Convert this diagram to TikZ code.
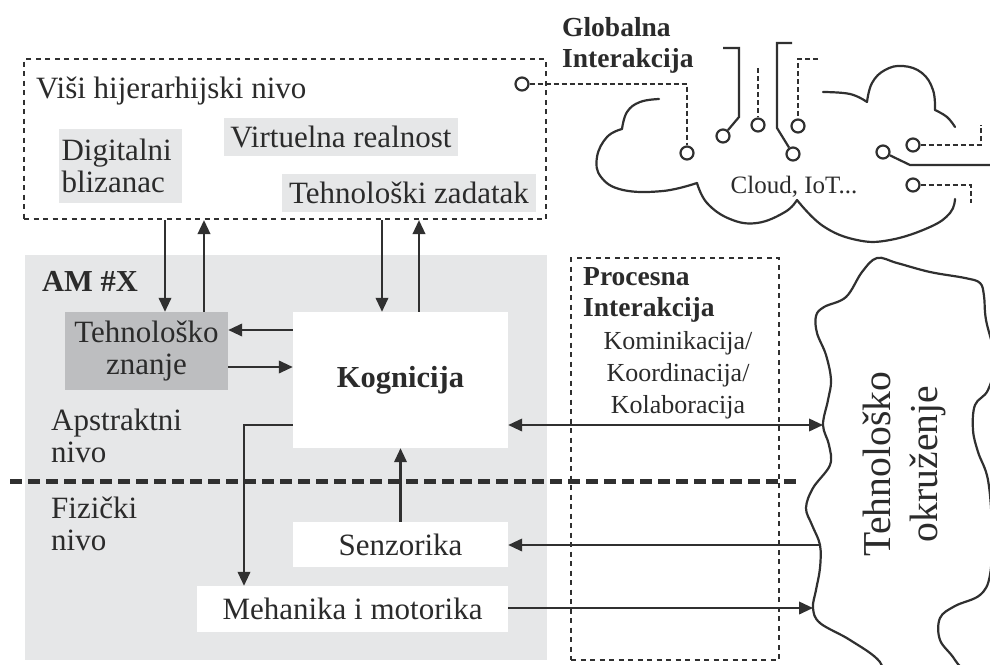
\documentclass[tikz,border=0pt]{standalone}
\usepackage{fontspec}
\setmainfont{Liberation Serif}
\usetikzlibrary{arrows.meta}
\definecolor{ink}{HTML}{303030}
\definecolor{txt}{HTML}{2B2B2B}
\definecolor{lgray}{HTML}{E6E7E8}
\definecolor{mgray}{HTML}{BDBEC0}
\begin{document}
\begin{tikzpicture}[x=1pt,y=-1pt,
  every node/.style={text=txt, inner sep=0pt},
  ln/.style={draw=ink, line width=2.2pt},
  arr/.style={ln, -{Triangle[length=14pt,width=12.5pt]}},
  biarr/.style={ln, {Triangle[length=14pt,width=12.5pt]}-{Triangle[length=14pt,width=12.5pt]}},
  dotbox/.style={draw=ink, line width=2.2pt, dash pattern=on 5pt off 4.5pt},
  dashcon/.style={draw=ink, line width=2.2pt, dash pattern=on 5pt off 3pt},
  sepline/.style={draw=ink, line width=5pt, dash pattern=on 12pt off 6pt},
  pinnode/.style={draw=ink, line width=2.2pt, fill=white, circle, minimum size=13pt, inner sep=0pt},
  fmain/.style={font=\fontsize{31}{32}\selectfont},
  fmainb/.style={font=\fontsize{30.5}{32}\selectfont\bfseries},
  fbold/.style={font=\fontsize{27.5}{31}\selectfont\bfseries},
  fsmall/.style={font=\fontsize{26}{32}\selectfont},
  lightbox/.style={fill=lgray, fmain},
  whitebox/.style={fill=white, fmain},
]
\fill[white] (0,0) rectangle (990,664);
\useasboundingbox (0,0) rectangle (990,664);

% ---------------- upper level box
\node[dotbox, minimum width=522pt, minimum height=160pt] (upper) at (285,139) {};
\node[fmain, anchor=base west] (vishi) at (36,98) {Viši hijerarhijski nivo};
\node[lightbox, minimum width=123pt, minimum height=74pt, text width=118pt, align=left, inner xsep=2.5pt] (dig) at (120.5,166) {Digitalni\\blizanac};
\node[lightbox, minimum width=234pt, minimum height=38pt] (virt) at (341,137) {Virtuelna realnost};
\node[lightbox, minimum width=254pt, minimum height=38pt] (tzad) at (409,193) {Tehnološki zadatak};

% ---------------- AM region
\node[fill=lgray, minimum width=522pt, minimum height=405pt] (am) at (286,457.5) {};
\node[fmainb, anchor=base west] (amx) at (42,291) {AM \#X};
\node[fill=mgray, fmain, minimum width=163pt, minimum height=78pt, align=center] (tzn) at (146.5,351) {Tehnološko\\znanje};
\node[whitebox, fmainb, minimum width=215pt, minimum height=136pt] (kog) at (400.5,380) {Kognicija};
\node[fmain, anchor=west, align=left] (apst) at (51,436) {Apstraktni\\nivo};
\node[fmain, anchor=west, align=left] (fiz) at (51,524) {Fizički\\nivo};
\node[whitebox, minimum width=215pt, minimum height=45pt] (sen) at (400.5,544.5) {Senzorika};
\node[whitebox, minimum width=311pt, minimum height=46pt] (meh) at (352.5,609) {Mehanika i motorika};

% ---------------- process interaction box
\node[dotbox, minimum width=208pt, minimum height=402pt] (proc) at (675,459) {};
\node[fbold, anchor=west, align=left] (proct) at (583,295) {Procesna\\Interakcija};
\node[fsmall, align=center] (kom) at (678,375) {Kominikacija/\\Koordinacija/\\Kolaboracija};

% separator
\coordinate (s0) at (10,481);
\coordinate (s1) at (798,481);
\draw[sepline] (s0) -- (s1);

% ---------------- technological environment
\begin{scope}
\clip (0,0) rectangle (990,664);
\draw[ln, fill=white] plot[smooth cycle, tension=0.6] coordinates {
 (877,258) (897,263) (930,272) (965,278) (980,283) (984,296) (986,320) (995,360)
 (988,390) (975,405) (973,430) (978,452) (988,480) (992,530) (990,575)
 (980,595) (955,606) (940,618) (940,640) (955,660) (970,690)
 (890,690) (880,662) (850,640) (820,623) (813,608) (816,590) (820,568) (820,545)
 (812,525) (806,508) (813,488) (830,465) (829,445) (823,425) (828,400)
 (831,380) (826,355) (817,333) (816,316) (824,307) (846,297) (862,272)};
\node[font=\fontsize{39.6}{47}\selectfont, rotate=90, align=center] (env) at (904.5,464) {Tehnološko\\okruženje};

% ---------------- cloud
\draw[ln, line cap=round] plot[smooth, tension=0.7] coordinates {(659,99) (640,102) (627,112) (622,129)};
\draw[ln, line cap=round] plot[smooth, tension=0.7] coordinates {(622,129) (607,137) (597,157) (601,177) (623,190) (663,191) (697,183)};
\draw[ln, line cap=round] plot[smooth, tension=0.7] coordinates {(697,183) (707,203) (730,219) (757,223) (785,212) (797,200)};
\draw[ln, line cap=round] plot[smooth, tension=0.7] coordinates {(797,200) (823,226) (857,240) (890,240) (930,227) (950,213) (955,199)};
\draw[ln, line cap=round] plot[smooth, tension=0.7] coordinates {(823,92) (850,94) (867,102)};
\draw[ln, line cap=round] plot[smooth, tension=0.7] coordinates {(867,102) (872,83) (885,70) (903,66) (922,73) (933,90) (935,110)};
\draw[ln, line cap=round] plot[smooth, tension=0.7] coordinates {(935,110) (947,117) (955,127)};
\node[font=\fontsize{25}{30}\selectfont, anchor=base] (cloudt) at (794,193) {Cloud, IoT...};
\end{scope}

\node[fbold, anchor=west, align=left] (glob) at (562,45) {Globalna\\Interakcija};

% pins
\node[pinnode] (p0) at (522,84) {};
\node[pinnode] (p1) at (687,153) {};
\node[pinnode] (p2) at (723,136) {};
\node[pinnode] (p3) at (758,125) {};
\node[pinnode] (p4) at (793,154) {};
\node[pinnode] (p5) at (798,126) {};
\node[pinnode] (p6) at (913,145) {};
\node[pinnode] (p7) at (883,152) {};
\node[pinnode] (p8) at (913,185) {};
\coordinate (g2) at (723,48);
\coordinate (g3) at (758,68);
\coordinate (g4) at (792,43);
\coordinate (g5) at (818,59);
\coordinate (g6) at (981,125);
\coordinate (g7) at (990,165);
\coordinate (g8) at (971,203);
\draw[dashcon] (p0) -- (p0 -| p1) -- (p1);
\draw[ln] (g2) -- ++(16,0) -- ++(0,69) -- (p2);
\draw[dashcon] (g3) -- (p3);
\draw[ln] (g4) -- ++(-15,0) -- ++(0,85) -- (p4);
\draw[dashcon] (g5) -- ++(-20,0) -- (p5);
\draw[dashcon] (p6) -- (p6 -| g6) -- (g6);
\draw[ln] (p7) -- ++(27,13) -- (g7);
\draw[dashcon] (p8) -- (p8 -| g8) -- (g8);

% ---------------- arrows
\coordinate (xa) at (165,0);
\coordinate (xb) at (204,0);
\coordinate (xc) at (382,0);
\coordinate (xd) at (419,0);
\coordinate (xe) at (244,0);
\coordinate (ya) at (0,330);
\coordinate (yb) at (0,367);
\coordinate (yc) at (0,425);
\coordinate (envA) at (823,425);
\coordinate (envB) at (820,545);
\coordinate (envC) at (813,608);
\draw[arr] (xa |- upper.south) -- (xa |- tzn.north);
\draw[arr] (xb |- tzn.north) -- (xb |- upper.south);
\draw[arr] (xc |- upper.south) -- (xc |- kog.north);
\draw[arr] (xd |- kog.north) -- (xd |- upper.south);
\draw[arr] (kog.west |- ya) -- (tzn.east |- ya);
\draw[arr] (tzn.east |- yb) -- (kog.west |- yb);
\draw[arr] (kog.west |- yc) -| (xe |- meh.north);
\draw[arr] (sen.north) -- (sen.north |- kog.south);
\draw[biarr] (kog.east |- envA) -- (envA);
\draw[arr] (envB) -- (sen.east |- envB);
\draw[arr] (meh.east |- envC) -- (envC);
\end{tikzpicture}
\end{document}
